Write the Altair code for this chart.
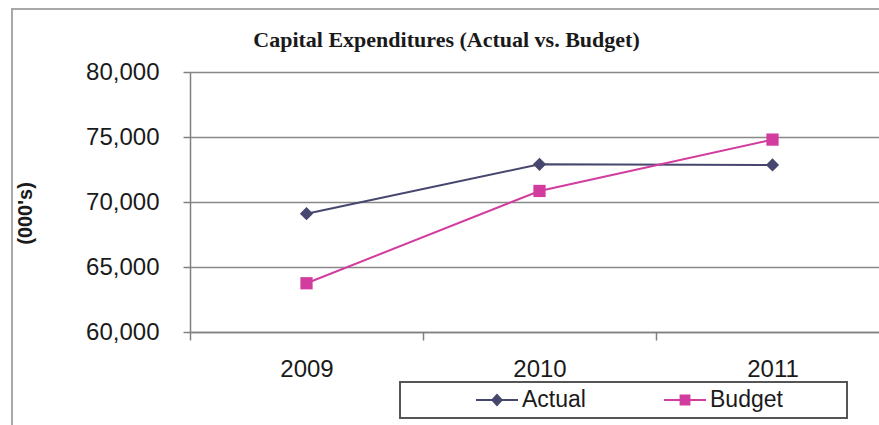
import altair as alt
import pandas as pd

years = ["2009", "2010", "2011"]
actual = [69100, 72900, 72850]
budget = [63750, 70850, 74800]
series_names = ["Actual", "Budget"]
series_colors = ["#46466f", "#d23c9f"]
y_ticks = [60000, 65000, 70000, 75000, 80000]

df = pd.DataFrame({
    "year": years * 2,
    "value": actual + budget,
    "series": [series_names[0]] * len(years) + [series_names[1]] * len(years),
})

W, H = 689, 260
FONT = "Liberation Sans"

x_enc = alt.X(
    "year:N",
    sort=years,
    scale=alt.Scale(type="band", range=[0, 699], paddingInner=0, paddingOuter=0),
    axis=alt.Axis(
        title=None, tickBand="extent", labelAngle=0, labelFont=FONT,
        labelFontSize=24, labelColor="#1a1a1a", tickSize=8, tickColor="#808080",
        tickWidth=1.5, labelPadding=17, domainColor="#808080", domainWidth=1.5,
        grid=False,
    ),
)
y_enc = alt.Y(
    "value:Q",
    scale=alt.Scale(domain=[60000, 80000], nice=False, zero=False),
    axis=alt.Axis(
        values=y_ticks, format=",.0f", title="(000's)", titleFont=FONT,
        titleFontWeight="bold", titleFontSize=20, titleColor="#1a1a1a",
        titleAngle=270, titleX=-165, titleY=141, titleAlign="center",
        titleBaseline="middle", labelFont=FONT, labelFontSize=24,
        labelColor="#1a1a1a", tickSize=7, tickColor="#808080", tickWidth=1.5,
        labelPadding=24, gridColor="#888888", gridWidth=1.6,
        domainColor="#808080", domainWidth=1.5,
    ),
)

# legend symbols: a short line with the marker on it (filled outlines)
actual_path = "M-1.75,-0.08H1.75V0.08H-1.75Z M0,-0.55L0.5,0L0,0.55L-0.5,0Z"
budget_path = "M-1.75,-0.08H1.75V0.08H-1.75Z M-0.45,-0.45H0.45V0.45H-0.45Z"

legend_props = dict(
    title=None, orient="none", direction="horizontal", legendX=295,
    legendY=316, labelFont=FONT, labelFontSize=23, labelColor="#1a1a1a",
    symbolSize=576, labelOffset=13, columnPadding=78, padding=0,
    symbolOpacity=1, symbolStrokeWidth=0, zindex=2,
)

base = alt.Chart(df)

frame = base.mark_rect(fill="transparent", stroke="#a8a8a8", strokeWidth=1.5).encode(
    x=alt.value(-178), x2=alt.value(800), y=alt.value(-63), y2=alt.value(500)
)

layers = [frame]
for name, col, shp, sz in zip(series_names, series_colors, ["diamond", "square"], [175, 150]):
    sub = base.transform_filter(alt.datum.series == name)
    layers.append(sub.mark_line(strokeWidth=2, color=col).encode(x=x_enc, y=y_enc))
    layers.append(sub.mark_point(shape=shp, filled=True, size=sz, opacity=1, color=col)
                  .encode(x=x_enc, y=y_enc))

# legend-only layer: draws nothing, its legend comes from the fixed scale domains
legend_layer = base.transform_filter("false").mark_point(filled=True).encode(
    x=x_enc, y=y_enc,
    color=alt.Color("series:N", scale=alt.Scale(domain=series_names, range=series_colors),
                    legend=alt.Legend(**legend_props)),
    shape=alt.Shape("series:N", scale=alt.Scale(domain=series_names, range=[actual_path, budget_path]),
                    legend=alt.Legend(**legend_props)),
)
layers.append(legend_layer)

legend_box = base.mark_rect(fill="transparent", stroke="#555555", strokeWidth=1.5).encode(
    x=alt.value(210), x2=alt.value(657), y=alt.value(310), y2=alt.value(346)
)
layers.append(legend_box)

chart = alt.layer(*layers).properties(
    width=W,
    height=H,
    autosize=alt.AutoSizeParams(type="none"),
    padding={"left": 190, "top": 72, "right": 0, "bottom": 93},
    background="white",
    title=alt.TitleParams(
        text="Capital Expenditures (Actual vs. Budget)",
        font="Liberation Serif", fontSize=22, fontWeight="bold",
        color="#1a1a1a", anchor="middle", frame="group", dx=-88, dy=48,
    ),
).configure_view(strokeWidth=0)

chart.save("out.html", embed_options={"renderer": "svg", "actions": False})
